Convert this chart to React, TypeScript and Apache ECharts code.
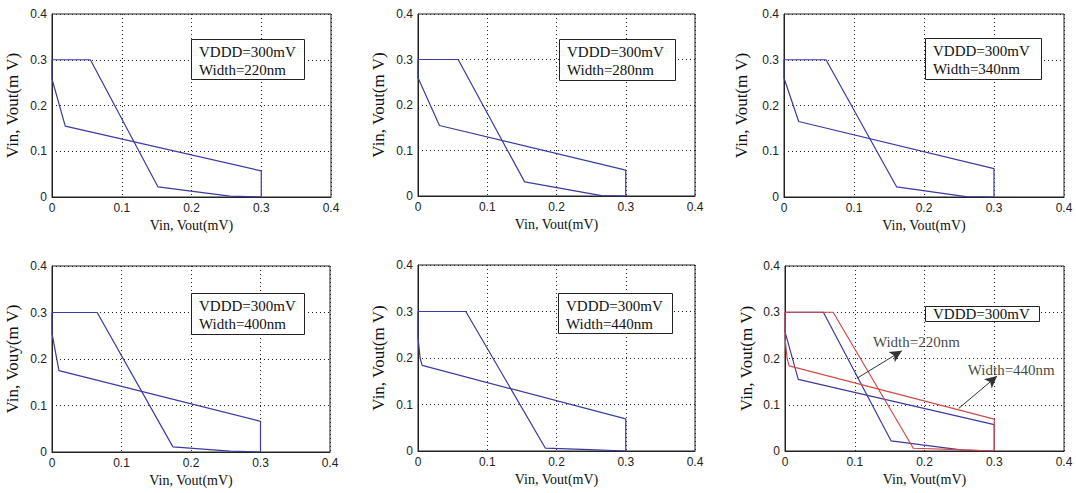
import React, { useEffect, useRef } from "react";
import * as echarts from "echarts";

// ---- axis ticks ----
const TICK_MIN = 0;
const TICK_MAX = 0.4;
const TICK_STEP = 0.1;
const TICK_LABELS = ["0", "0.1", "0.2", "0.3", "0.4"];

// ---- texts ----
const X_TITLE = "Vin, Vout(mV)";
const Y_TITLES = [
  "Vin, Vout(m V)",
  "Vin, Vout(m V)",
  "Vin, Vout(m V)",
  "Vin, Vouy(m V)",
  "Vin, Vout(m V)",
  "Vin, Vout(m V)",
];
const VDDD_LABEL = "VDDD=300mV";
const WIDTH_LABELS = ["Width=220nm", "Width=280nm", "Width=340nm", "Width=400nm", "Width=440nm"];

// ---- curve data: [Vin, Vout] ----
const w220Fwd = [[0, 0.3], [0.055, 0.3], [0.152, 0.022], [0.255, 0.002], [0.3, 0]];
const w220Rev = [[0, 0.3], [0, 0.258], [0.019, 0.155], [0.3, 0.057], [0.3, 0]];

const w280Fwd = [[0, 0.3], [0.058, 0.3], [0.154, 0.031], [0.265, 0.001], [0.3, 0]];
const w280Rev = [[0, 0.3], [0, 0.26], [0.031, 0.155], [0.3, 0.057], [0.3, 0]];

const w340Fwd = [[0, 0.3], [0.06, 0.3], [0.161, 0.022], [0.26, 0.001], [0.3, 0]];
const w340Rev = [[0, 0.3], [0, 0.26], [0.021, 0.165], [0.3, 0.062], [0.3, 0]];

const w400Fwd = [[0, 0.3], [0.065, 0.3], [0.174, 0.011], [0.256, 0.002], [0.3, 0]];
const w400Rev = [[0, 0.3], [0, 0.255], [0.01, 0.175], [0.3, 0.066], [0.3, 0]];

const w440Fwd = [[0, 0.3], [0.069, 0.3], [0.184, 0.006], [0.248, 0.003], [0.3, 0]];
const w440Rev = [[0, 0.3], [0, 0.245], [0.003, 0.2], [0.006, 0.184], [0.3, 0.069], [0.3, 0]];

// ---- annotations in last panel (data units) ----
const ARROW_220 = [[0.103, 0.157], [0.1675, 0.2165]];
const ARROW_440 = [[0.249, 0.092], [0.304, 0.162]];
const TEXT_220_POS = [0.126, 0.236];
const TEXT_440_POS = [0.262, 0.176];

const BLUE = "#3a3aa0";
const RED = "#d24a4a";

const GRIDS = [
  { left: 52, top: 14, width: 279, height: 183 },
  { left: 418, top: 14, width: 277, height: 182 },
  { left: 784, top: 14, width: 280, height: 183 },
  { left: 52, top: 266, width: 278, height: 186 },
  { left: 418, top: 265, width: 277, height: 186 },
  { left: 785, top: 266, width: 279, height: 185 },
];
const Y_NAME_GAPS = [31, 31, 34, 31, 31, 30];

const BOXES = [
  { x: 191, y: 39, w: 113, h: 40, lines: [VDDD_LABEL, WIDTH_LABELS[0]] },
  { x: 559, y: 39, w: 116, h: 41, lines: [VDDD_LABEL, WIDTH_LABELS[1]] },
  { x: 925, y: 38, w: 116, h: 41, lines: [VDDD_LABEL, WIDTH_LABELS[2]] },
  { x: 191, y: 293, w: 113, h: 41, lines: [VDDD_LABEL, WIDTH_LABELS[3]] },
  { x: 558, y: 293, w: 114, h: 40, lines: [VDDD_LABEL, WIDTH_LABELS[4]] },
  { x: 925, y: 306, w: 114, h: 15, lines: [VDDD_LABEL] },
];

const PANELS = [
  [{ d: w220Fwd, c: BLUE }, { d: w220Rev, c: BLUE }],
  [{ d: w280Fwd, c: BLUE }, { d: w280Rev, c: BLUE }],
  [{ d: w340Fwd, c: BLUE }, { d: w340Rev, c: BLUE }],
  [{ d: w400Fwd, c: BLUE }, { d: w400Rev, c: BLUE }],
  [{ d: w440Fwd, c: BLUE }, { d: w440Rev, c: BLUE }],
  [
    { d: w220Fwd, c: BLUE },
    { d: w220Rev, c: BLUE },
    { d: w440Fwd, c: RED },
    { d: w440Rev, c: RED },
  ],
];

const SANS = "'Liberation Sans', Arial, sans-serif";
const SERIF = "'Liberation Serif', 'Times New Roman', serif";

function tickFmt(v: number) {
  const i = Math.round((v - TICK_MIN) / TICK_STEP);
  return TICK_LABELS[i] ?? String(v);
}

export default function App() {
  const ref = useRef<HTMLDivElement>(null);
  useEffect(() => {
    if (!ref.current) return;
    const chart = echarts.init(ref.current, null, { renderer: "svg" });

    const axisCommon = {
      type: "value",
      min: TICK_MIN,
      max: TICK_MAX,
      interval: TICK_STEP,
      axisLine: { show: true, lineStyle: { color: "#222", width: 1 } },
      axisTick: { show: false },
      splitLine: { show: true, lineStyle: { color: "#222", type: [1, 3], width: 1 } },
    };

    const xAxis = GRIDS.map((_, i) => ({
      ...axisCommon,
      gridIndex: i,
      name: X_TITLE,
      nameLocation: "middle",
      nameGap: 21,
      nameTextStyle: { fontFamily: SERIF, fontSize: 14, color: "#111" },
      axisLabel: { formatter: tickFmt, fontFamily: SANS, fontSize: 12, color: "#222", margin: 5 },
    }));
    const yAxis = GRIDS.map((_, i) => ({
      ...axisCommon,
      gridIndex: i,
      name: Y_TITLES[i],
      nameLocation: "middle",
      nameGap: Y_NAME_GAPS[i],
      nameTextStyle: { fontFamily: SERIF, fontSize: 17, color: "#111" },
      axisLabel: { formatter: tickFmt, fontFamily: SANS, fontSize: 12, color: "#222", margin: 5 },
    }));

    const series: any[] = [];
    PANELS.forEach((curves, i) => {
      curves.forEach((cv) => {
        series.push({
          type: "line",
          xAxisIndex: i,
          yAxisIndex: i,
          data: cv.d,
          showSymbol: false,
          symbol: "none",
          lineStyle: { color: cv.c, width: 1.2 },
          silent: true,
          z: 3,
        });
      });
    });

    // arrows
    series.push({
      type: "line",
      xAxisIndex: 5,
      yAxisIndex: 5,
      data: [],
      silent: true,
      markLine: {
        silent: true,
        symbol: ["none", "arrow"],
        symbolSize: [9, 12],
        label: { show: false },
        lineStyle: { color: "#333", width: 1, type: "solid" },
        data: [
          [{ coord: ARROW_220[0] }, { coord: ARROW_220[1] }],
          [{ coord: ARROW_440[0] }, { coord: ARROW_440[1] }],
        ],
      },
    });
    // annotation texts
    series.push({
      type: "scatter",
      xAxisIndex: 5,
      yAxisIndex: 5,
      symbolSize: 0,
      silent: true,
      data: [
        { value: TEXT_220_POS, name: WIDTH_LABELS[0] },
        { value: TEXT_440_POS, name: WIDTH_LABELS[4] },
      ],
      label: {
        show: true,
        position: "right",
        distance: 0,
        formatter: (p: any) => p.name,
        fontFamily: SERIF,
        fontSize: 15,
        color: "#111",
      },
      z: 5,
    });

    const graphic: any[] = [];
    BOXES.forEach((b) => {
      graphic.push({
        type: "rect",
        left: b.x,
        top: b.y,
        shape: { width: b.w, height: b.h },
        style: { fill: "#fff", stroke: "#222", lineWidth: 1 },
        z: 10,
      });
      const lh = b.lines.length === 1 ? b.h : 18.5;
      b.lines.forEach((t, k) => {
        graphic.push({
          type: "text",
          x: b.x + 8,
          y: b.y + (b.lines.length === 1 ? b.h / 2 : 12.5 + k * lh),
          style: {
            text: t,
            fontFamily: SERIF,
            fontSize: 15,
            fill: "#111",
            verticalAlign: "middle",
            align: "left",
          },
          z: 11,
        });
      });
    });

    chart.setOption({
      animation: false,
      backgroundColor: "#fff",
      grid: GRIDS.map((g) => ({
        ...g,
        show: true,
        borderColor: "#222",
        borderWidth: 1,
        backgroundColor: "#fff",
        containLabel: false,
      })),
      xAxis,
      yAxis,
      series,
      graphic,
    });
    return () => chart.dispose();
  }, []);
  return (
    <div
      ref={ref}
      style={{ position: "absolute", left: 0, top: 0, width: 1076, height: 493, background: "#fff" }}
    />
  );
}
